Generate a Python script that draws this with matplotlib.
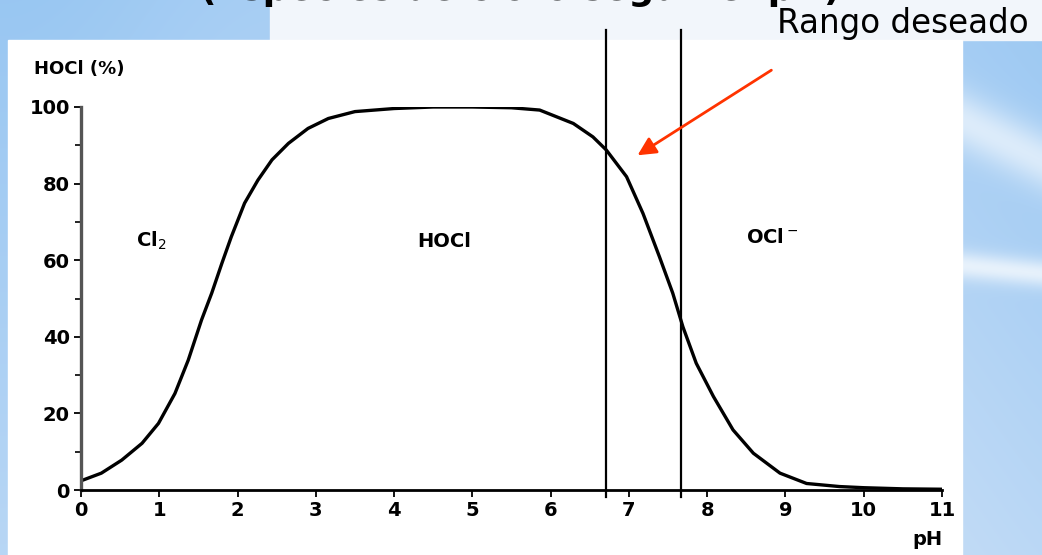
import numpy as np
import matplotlib.pyplot as plt
from matplotlib.patches import Rectangle

# curve (pH, % HOCl)
ph = [0.0, 0.26, 0.52, 0.78, 0.99, 1.20, 1.37, 1.54, 1.67, 1.80, 1.92, 2.09, 2.26,
      2.44, 2.65, 2.90, 3.16, 3.50, 4.0, 4.5, 5.0, 5.5, 5.86, 6.29, 6.54, 6.71,
      6.97, 7.18, 7.39, 7.56, 7.69, 7.86, 8.08, 8.33, 8.59, 8.93, 9.27, 9.69,
      10.0, 10.5, 11.0]
hocl = [2.4, 4.4, 7.8, 12.2, 17.4, 25.2, 33.9, 44.4, 51.4, 59.2, 66.1, 74.9, 80.9,
        86.2, 90.5, 94.4, 97.0, 98.8, 99.6, 100, 100, 99.8, 99.2, 95.7, 92.2, 88.8,
        81.8, 72.2, 60.9, 51.4, 42.6, 33.1, 24.4, 15.7, 9.6, 4.4, 1.7, 0.9,
        0.6, 0.3, 0.2]

range_lo = 6.71
range_hi = 7.66

species = ['Cl$_2$', 'HOCl', 'OCl$^-$']
species_x = [0.7, 4.3, 8.5]
species_y = [65, 65, 66]

xticks = list(range(0, 12))
yticks = [0, 20, 40, 60, 80, 100]

fig = plt.figure(figsize=(10.42, 5.55), dpi=100)

# slide background
bg = fig.add_axes([0, 0, 1, 1])
bg.set_xlim(0, 1042)
bg.set_ylim(555, 0)
bg.axis('off')
yy, xx = np.mgrid[0:555, 0:1042]
t = np.clip(0.55 * yy / 555 + 0.25 * np.sin(xx / 180.0) ** 2, 0, 1)
c1 = np.array([0.60, 0.78, 0.95])
c2 = np.array([0.82, 0.89, 0.97])
img = c1 + (c2 - c1) * t[..., None]
band = 0.6 * np.exp(-((yy - 0.5 * (xx - 962) - 120) / 30.0) ** 2) * (xx > 962)
band += 0.7 * np.exp(-((yy - 0.1 * (xx - 962) - 265) / 14.0) ** 2) * (xx > 962)
img = img + (1 - img) * np.clip(band, 0, 1)[..., None]
bg.imshow(img, extent=[0, 1042, 555, 0], aspect='auto', zorder=0)
bg.add_patch(Rectangle((270, 0), 772, 40, color='#f2f6fb', zorder=1))
bg.add_patch(Rectangle((8, 40), 954, 515, color='white', zorder=2))
bg.text(520, 7, '(Especies de cloro según el pH)', fontsize=26, fontweight='bold',
        ha='center', va='bottom', color='black', zorder=3)

ax = fig.add_axes([81 / 1042, (555 - 490) / 555, (942 - 81) / 1042, (490 - 107) / 555])
ax.patch.set_alpha(0)
ax.plot(ph, hocl, color='black', lw=2.4, solid_capstyle='round', solid_joinstyle='round')
ax.set_xlim(0, 11)
ax.set_ylim(0, 100)

for s in ['top', 'right']:
    ax.spines[s].set_visible(False)
ax.spines['left'].set_linewidth(2.4)
ax.spines['left'].set_color('#555555')
ax.spines['bottom'].set_linewidth(2)
ax.spines['left'].set_bounds(0, 100)
ax.spines['bottom'].set_bounds(0, 11)

ax.set_xticks(xticks)
ax.set_yticks(yticks)
ax.set_yticks([10, 30, 50, 70, 90], minor=True)
ax.tick_params(axis='both', which='major', length=5, width=1.3, labelsize=14, pad=3)
ax.tick_params(axis='y', which='minor', length=4, width=1.2)
for lab in ax.get_xticklabels() + ax.get_yticklabels():
    lab.set_fontweight('bold')

ax.text(-0.6, 110, 'HOCl (%)', fontsize=13, fontweight='bold', ha='left', va='center')
ax.text(11.0, -13, 'pH', fontsize=14, fontweight='bold', ha='right', va='center')

for name, x, y in zip(species, species_x, species_y):
    ax.text(x, y, name, fontsize=14, fontweight='bold', ha='left', va='center')

for x in [range_lo, range_hi]:
    ax.plot([x, x], [-1.8, 120], color='black', lw=1.6, clip_on=False)

ax.annotate('', xy=(7.08, 87), xytext=(8.85, 110), textcoords='data',
            arrowprops=dict(arrowstyle='-|>,head_length=1.1,head_width=0.55',
                            color='#ff3300', lw=2), annotation_clip=False)
fig.text(903 / 1042, 1 - 24 / 555, 'Rango deseado', fontsize=23.5, ha='center',
         va='center', color='black')

fig.savefig('out.png', dpi=100)
